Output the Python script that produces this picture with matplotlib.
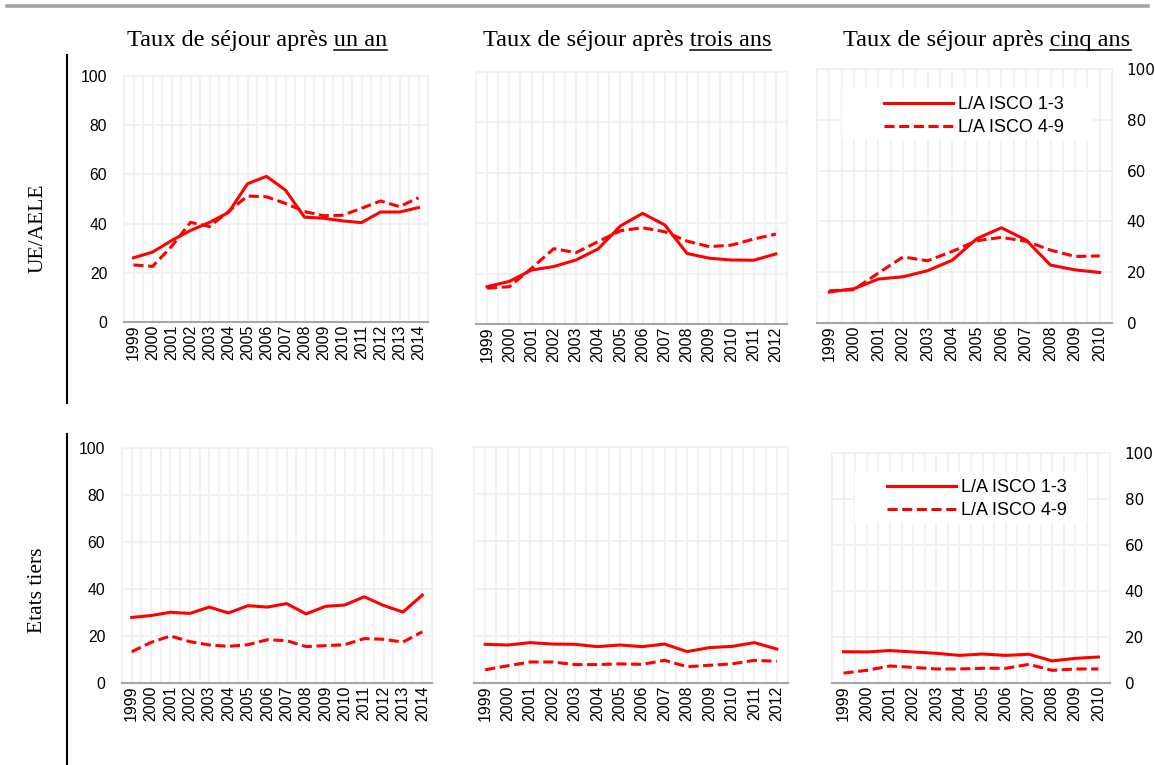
import matplotlib
matplotlib.use('Agg')
import matplotlib.pyplot as plt
from matplotlib.lines import Line2D
from matplotlib.patches import Rectangle

W, H, DPI = 1155, 765, 100

# ---------------- data ----------------
years_1an = ['1999', '2000', '2001', '2002', '2003', '2004', '2005', '2006',
             '2007', '2008', '2009', '2010', '2011', '2012', '2013', '2014']
years_3ans = ['1999', '2000', '2001', '2002', '2003', '2004', '2005', '2006',
              '2007', '2008', '2009', '2010', '2011', '2012']
years_5ans = ['1999', '2000', '2001', '2002', '2003', '2004', '2005', '2006',
              '2007', '2008', '2009', '2010']

series_labels = ['L/A ISCO 1-3', 'L/A ISCO 4-9']
titles_prefix = 'Taux de séjour après '
titles_suffix = ['un an', 'trois ans', 'cinq ans']
row_labels = ['UE/AELE', 'Etats tiers']

# UE/AELE
ue_1an_13 = [26.1, 28.4, 33.1, 37.2, 40.5, 44.5, 56.2, 59.2, 53.6, 42.6, 42.2, 41.1, 40.4, 44.7, 44.7, 46.5]
ue_1an_49 = [23.2, 22.6, 30.7, 40.5, 38.8, 44.9, 51.2, 50.9, 48.2, 44.9, 43.2, 43.4, 46.2, 49.2, 46.9, 50.5]
ue_3ans_13 = [14.8, 16.9, 21.4, 22.8, 25.4, 29.8, 38.9, 43.9, 39.3, 28.0, 26.1, 25.4, 25.3, 27.8]
ue_3ans_49 = [14.2, 14.8, 22.1, 29.9, 28.3, 32.7, 37.0, 38.2, 36.6, 32.9, 30.7, 31.3, 33.7, 35.7]
ue_5ans_13 = [12.2, 13.5, 17.3, 18.2, 20.6, 24.7, 33.2, 37.5, 32.7, 22.8, 20.9, 19.9]
ue_5ans_49 = [12.7, 13.1, 19.7, 26.0, 24.5, 28.2, 32.4, 33.7, 32.2, 28.7, 26.2, 26.4]

# Etats tiers
et_1an_13 = [27.9, 28.7, 30.1, 29.6, 32.3, 29.8, 32.9, 32.3, 33.8, 29.4, 32.6, 33.2, 36.7, 33.0, 30.2, 37.4]
et_1an_49 = [13.3, 17.3, 20.0, 17.6, 16.2, 15.6, 16.3, 18.4, 18.0, 15.5, 15.9, 16.3, 18.9, 18.6, 17.4, 21.8]
et_3ans_13 = [16.4, 16.1, 17.1, 16.5, 16.4, 15.4, 16.1, 15.4, 16.5, 13.3, 15.0, 15.5, 17.1, 14.4]
et_3ans_49 = [5.6, 7.3, 8.9, 8.9, 7.8, 7.8, 8.1, 7.9, 9.6, 6.9, 7.5, 8.1, 9.6, 9.2]
et_5ans_13 = [13.6, 13.5, 14.1, 13.5, 12.9, 12.0, 12.6, 12.0, 12.5, 9.6, 10.7, 11.3]
et_5ans_49 = [4.3, 5.5, 7.4, 6.8, 6.1, 6.1, 6.4, 6.4, 8.1, 5.5, 6.1, 6.1]

y_ticks = [0, 20, 40, 60, 80, 100]

# ---------------- style ----------------
RED = '#ff0000'
GRID = '#f2f2f2'
AXIS = '#a6a6a6'
SANS = 'Liberation Sans'
SERIF = 'Liberation Serif'
LW = 2.2
DASH = (3.3, 1.5)

fig = plt.figure(figsize=(W / DPI, H / DPI), dpi=DPI)


def px_axes(x0, y0, x1, y1):
    return fig.add_axes([x0 / W, 1 - y1 / H, (x1 - x0) / W, (y1 - y0) / H])


def panel(rect, years, s13, s49, yside, legend=None):
    ax = px_axes(*rect)
    n = len(years)
    x = list(range(n))
    ax.plot(x, s13, color=RED, lw=LW, label=series_labels[0], zorder=4)
    ax.plot(x, s49, color=RED, lw=LW, dashes=DASH, label=series_labels[1], zorder=4)
    ax.set_xlim(-0.5, n - 0.5)
    ax.set_ylim(0, 100)
    ax.set_xticks(x)
    ax.set_xticklabels(years, rotation=90, fontsize=11.5, family=SANS)
    ax.set_xticks([i - 0.5 for i in range(n + 1)], minor=True)
    ax.set_yticks(y_ticks)
    ax.grid(True, which='both', axis='x', color=GRID, lw=1.5, zorder=0)
    ax.grid(True, which='major', axis='y', color=GRID, lw=1.5, zorder=0)
    ax.set_axisbelow(True)
    for t in ax.xaxis.get_major_ticks() + ax.xaxis.get_minor_ticks() + ax.yaxis.get_major_ticks():
        t.gridline.set_clip_on(False)
    ax.tick_params(axis='both', which='both', length=0)
    ax.tick_params(axis='x', pad=2)
    ax.tick_params(axis='y', pad=12, labelsize=11.3)
    for lab in ax.get_yticklabels():
        lab.set_family(SANS)
    for sp in ['top', 'left', 'right']:
        ax.spines[sp].set_visible(False)
    ax.spines['bottom'].set_color(AXIS)
    ax.spines['bottom'].set_linewidth(1.5)
    ax.spines['bottom'].set_zorder(3)
    if yside == 'right':
        ax.yaxis.tick_right()
        ax.tick_params(axis='y', pad=10.5, labelsize=11)
    elif yside == 'none':
        ax.set_yticklabels([])
    if legend is not None:
        (bx0, by0, bx1, by1), (hx, hy) = legend
        x0, y0, x1, y1 = rect
        wpx, hpx = x1 - x0, y1 - y0
        ax.add_patch(Rectangle(((bx0 - x0) / wpx, 1 - (by1 - y0) / hpx),
                               (bx1 - bx0) / wpx, (by1 - by0) / hpx,
                               transform=ax.transAxes, facecolor='white',
                               edgecolor='none', zorder=2, clip_on=False))
        leg = ax.legend(loc='upper left',
                        bbox_to_anchor=((hx - x0) / wpx, 1 - (hy - y0) / hpx),
                        frameon=False, borderpad=0, borderaxespad=0,
                        handlelength=3.8, handletextpad=0.3, labelspacing=0.35,
                        prop={'family': SANS, 'size': 13})
        leg.set_zorder(5)
    return ax


panel((124, 76, 428, 322), years_1an, ue_1an_13, ue_1an_49, 'left')
panel((476, 72, 787, 324), years_3ans, ue_3ans_13, ue_3ans_49, 'none')
panel((817, 69, 1112, 323), years_5ans, ue_5ans_13, ue_5ans_49, 'right',
      legend=((842, 88, 1093, 140), (884, 96)))
panel((122, 448, 432, 683), years_1an, et_1an_13, et_1an_49, 'left')
panel((474, 447, 788, 683), years_3ans, et_3ans_13, et_3ans_49, 'none')
panel((832, 453, 1110, 683), years_5ans, et_5ans_13, et_5ans_49, 'right',
      legend=((855, 472, 1087, 523), (887, 479)))

# decorative lines
fig.add_artist(Line2D([7 / W, 1148 / W], [1 - 5.5 / H, 1 - 5.5 / H], color=AXIS, lw=2.6))
fig.add_artist(Line2D([67 / W, 67 / W], [1 - 55 / H, 1 - 403 / H], color='black', lw=1.5))
fig.add_artist(Line2D([67 / W, 67 / W], [1 - 434 / H, 1 - 765 / H], color='black', lw=1.5))

# row labels
fig.text(38 / W, 1 - 228 / H, row_labels[0], rotation=90, ha='center', va='center',
         family=SERIF, fontsize=15.5)
fig.text(38 / W, 1 - 590 / H, row_labels[1], rotation=90, ha='center', va='center',
         family=SERIF, fontsize=15.5)

# titles with underlined suffix
renderer = fig.canvas.get_renderer()
title_cx = [257, 627, 987]
title_base = 46
TS = 17.5
for cx, suf in zip(title_cx, titles_suffix):
    t = fig.text(cx / W, 1 - title_base / H, titles_prefix + suf, ha='center',
                 va='baseline', family=SERIF, fontsize=TS)
    bb = t.get_window_extent(renderer)
    tmp = fig.text(0, 0, suf, family=SERIF, fontsize=TS)
    w = tmp.get_window_extent(renderer).width
    tmp.remove()
    yline = (H - title_base - 3.5) / H
    fig.add_artist(Line2D([(bb.x1 - w) / W, bb.x1 / W], [yline, yline],
                          color='black', lw=1.1))

fig.savefig('out.png', dpi=DPI)
